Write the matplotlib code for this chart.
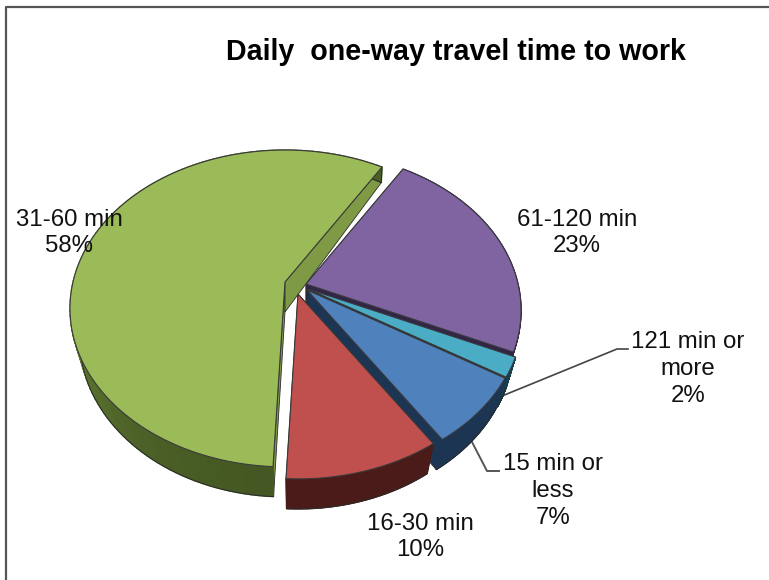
import numpy as np
import matplotlib
matplotlib.use('Agg')
import matplotlib.pyplot as plt

plt.rcParams['font.family'] = ['Liberation Sans', 'DejaVu Sans']

title = 'Daily  one-way travel time to work'
categories = ['61-120 min', '121 min or\nmore', '15 min or\nless', '16-30 min', '31-60 min']
values = [23, 2, 7, 10, 58]

top_colors = ['#8064A2', '#4BACC6', '#4F81BD', '#C0504D', '#9BBB59']
side_colors = ['#33254A', '#143F4C', '#1C3553', '#4A1B19', '#566E2C']
cut_colors = ['#33254A', '#12303A', '#1C3553', '#4A1B19', '#7F9A45']
offsets = [(0, 0), (2, 5), (1, 6), (-8, 10), (-21, -2)]
label_pos = [(577, 233), (688, 369), (553, 491), (420, 537), (69, 233)]

# pie geometry in picture pixels, the circle goes through a small perspective
cx, cy = 306, 284
A, B, k = 212, 154, 0.167
start_angle = 58.5
depth, shrink = 30, 0.045


def project(phi, off):
    u, v = np.cos(phi), np.sin(phi)
    w = 1 + k * v
    return cx + off[0] + A * u / w, cy + off[1] - B * v / w


def push_down(x, phi, off):
    # the lower face: a bit narrower at the front, less deep at the far side
    far = np.maximum(np.sin(phi), 0)
    scale = 1 - shrink * (1 - far)
    return cx + off[0] + scale * (x - cx - off[0]), depth - 17 * far


def shade(color, amount):
    rgb = np.array(matplotlib.colors.to_rgb(color))
    return tuple(np.clip(rgb * amount, 0, 1))


def draw_slice(ax, a0, a1, i):
    off = offsets[i]
    phi = np.radians(np.linspace(a0, a1, 120))
    x, y = project(phi, off)
    xb, dy = push_down(x, phi, off)
    yb = y + dy
    ax0, ay0 = cx + off[0], cy + off[1]
    bx0, by0 = ax0, ay0 + depth

    # cut faces
    for end in [0, -1]:
        ax.fill([ax0, x[end], xb[end], bx0], [ay0, y[end], yb[end], by0],
                color=cut_colors[i], ec='#2b2b2b', lw=0.6, zorder=i * 3 + 1)
    # outer wall, darker towards the front
    for j in range(len(phi) - 1):
        amount = 1.0
        if i == 4:
            amount = 1.25 - 0.45 * abs(np.sin(phi[j]))
        c = shade(side_colors[i], amount)
        ax.fill([x[j], x[j + 1], xb[j + 1], xb[j]], [y[j], y[j + 1], yb[j + 1], yb[j]],
                fc=c, ec=c, lw=1.0, zorder=i * 3 + 2)
    ax.plot(xb, yb, color='#2b2b2b', lw=0.7, zorder=i * 3 + 2)
    if i == 4:
        ax.plot([x[-1], xb[-1]], [y[-1], yb[-1]], color='#2b2b2b', lw=0.7, zorder=i * 3 + 2)
    # top face
    ax.fill(np.r_[ax0, x], np.r_[ay0, y], color=top_colors[i], ec='#3a3a3a', lw=0.8,
            zorder=i * 3 + 3)


fig = plt.figure(figsize=(7.69, 5.8), dpi=100)
ax = fig.add_axes([0, 0, 1, 1])
ax.set_xlim(0, 769)
ax.set_ylim(580, 0)
ax.axis('off')

# chart frame
ax.plot([6, 6, 769], [580, 7, 7], color='#555555', lw=1.6, zorder=0)

# leader lines
ax.plot([502, 617, 628], [396, 349, 349], color='#444444', lw=1.2, zorder=0.5)
ax.plot([472, 487, 499], [442, 471, 471], color='#555555', lw=1.4, zorder=0.5)

angle = start_angle
for i, value in enumerate(values):
    sweep = value / sum(values) * 360
    draw_slice(ax, angle, angle - sweep, i)
    angle -= sweep

for name, value, pos in zip(categories, values, label_pos):
    ax.text(pos[0], pos[1], f'{name}\n{value}%', ha='center', va='center', fontsize=17.3,
            color='#111111', linespacing=1.27, zorder=30)

ax.text(456, 52, title, ha='center', va='center', fontsize=20.6, fontweight='bold', color='black')

fig.savefig('out.png', dpi=100)
